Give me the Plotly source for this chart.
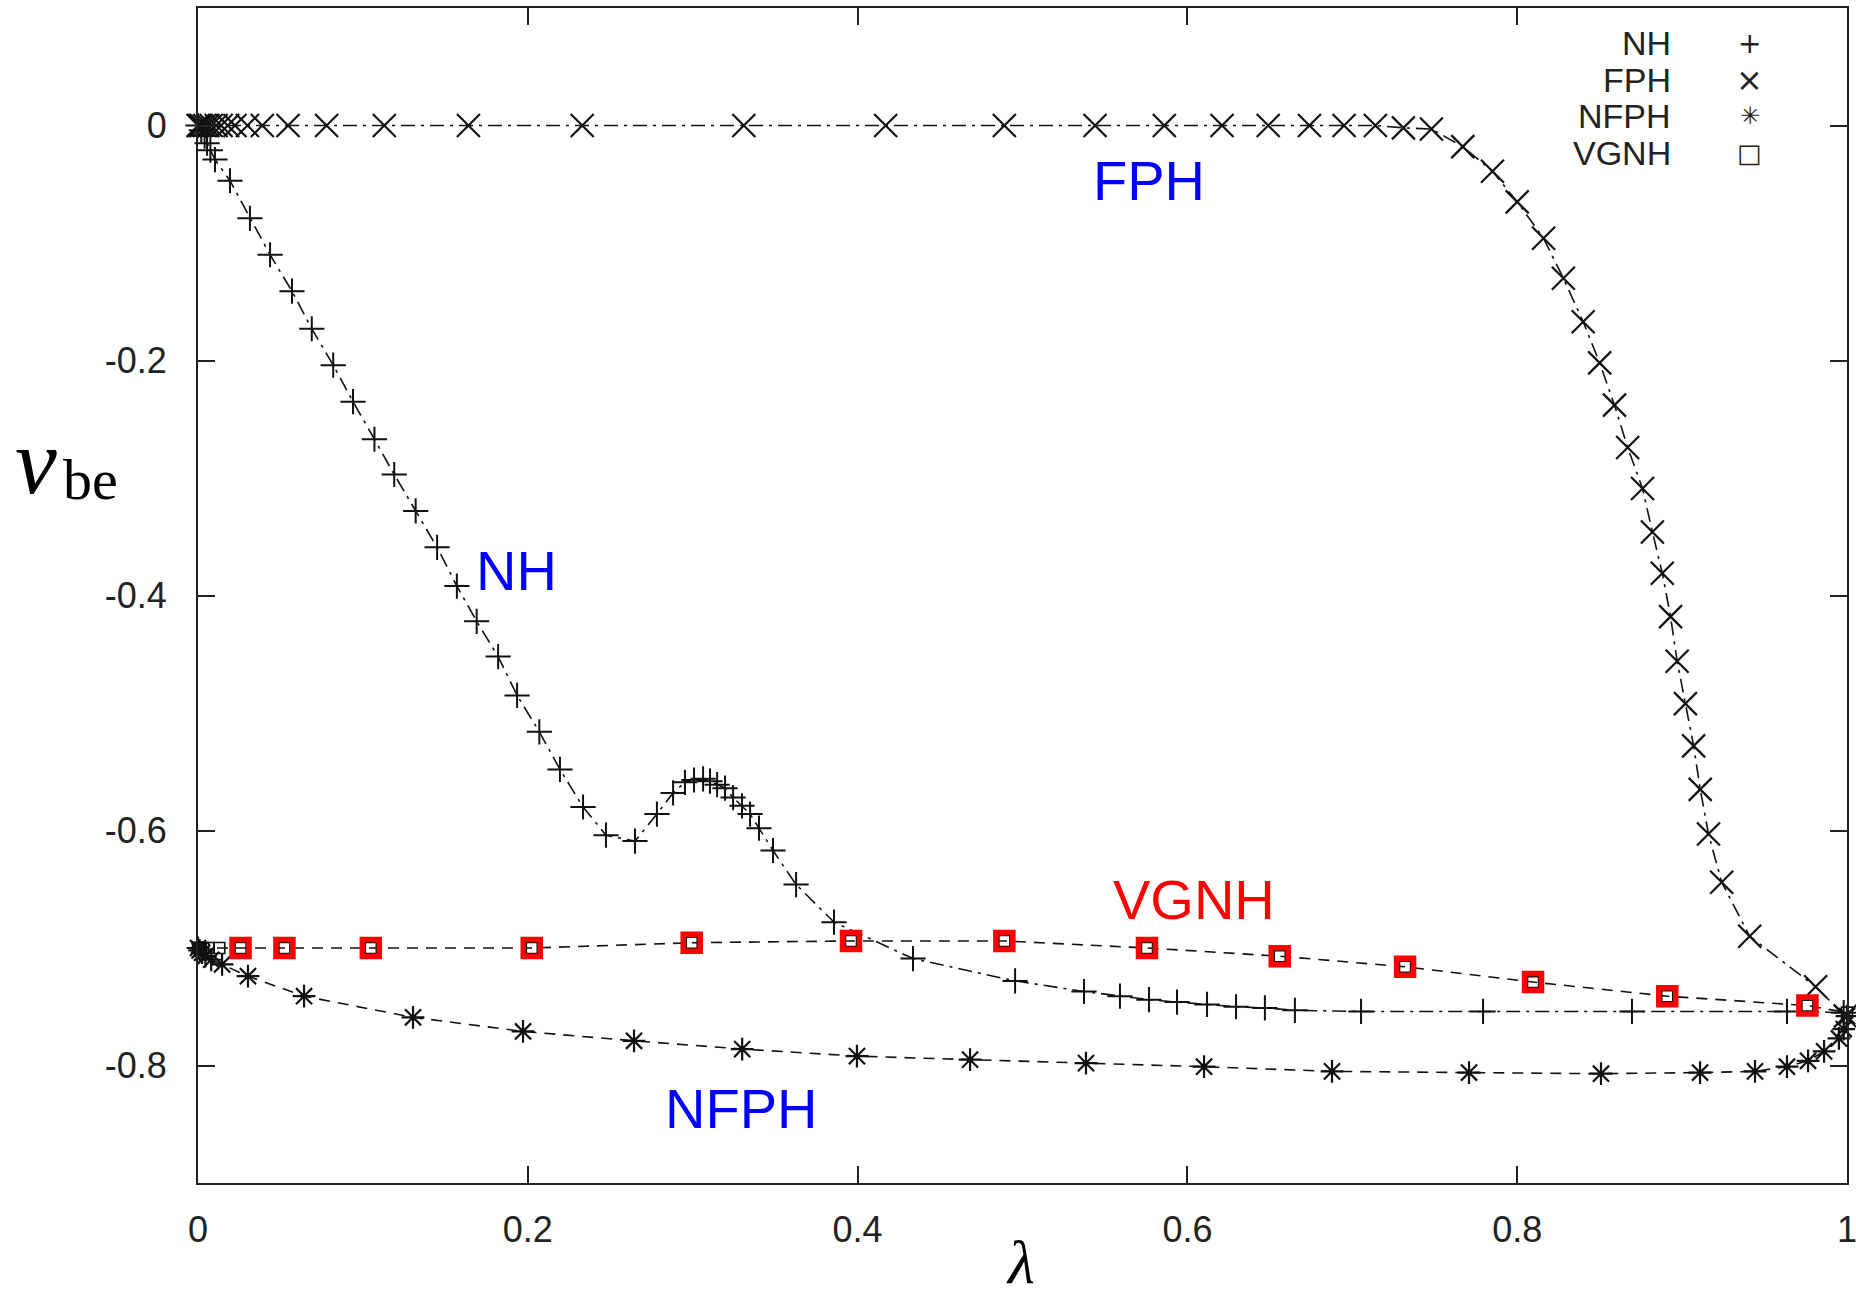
import plotly.graph_objects as go

# ---------------- data ----------------
NH_lam = [0, 0.002, 0.004, 0.0055, 0.0075, 0.0103, 0.0194, 0.0315, 0.0437, 0.057,
          0.069, 0.082, 0.094, 0.107, 0.119, 0.132, 0.145, 0.157, 0.169, 0.182,
          0.1935, 0.207, 0.2195, 0.2335, 0.2474, 0.2650, 0.2783, 0.2881, 0.2953, 0.3008,
          0.3063, 0.3105, 0.3148, 0.3196, 0.3245, 0.3299, 0.3348, 0.3402, 0.3487, 0.3627,
          0.3857, 0.4336, 0.4955, 0.5373, 0.5591, 0.5767, 0.5937, 0.6119, 0.6295, 0.6470,
          0.6652, 0.7053, 0.7793, 0.8696, 0.9636, 0.998]
NH_v = [0, -0.004, -0.009, -0.015, -0.021, -0.029, -0.047, -0.079, -0.110, -0.141,
        -0.173, -0.204, -0.235, -0.267, -0.297, -0.328, -0.359, -0.392, -0.422, -0.452,
        -0.485, -0.516, -0.548, -0.580, -0.604, -0.609, -0.586, -0.568, -0.559, -0.557,
        -0.556, -0.558, -0.561, -0.564, -0.572, -0.579, -0.586, -0.598, -0.617, -0.646,
        -0.678, -0.709, -0.728, -0.737, -0.741, -0.744, -0.746, -0.748, -0.750, -0.751,
        -0.753, -0.754, -0.754, -0.754, -0.754, -0.755]

FPH_lam = [0, 0.001, 0.002, 0.004, 0.006, 0.008, 0.011, 0.014, 0.018, 0.0224,
           0.030, 0.039, 0.0546, 0.078, 0.113, 0.164, 0.233, 0.331, 0.417, 0.489,
           0.544, 0.586, 0.621, 0.649, 0.674, 0.695, 0.714, 0.731, 0.748, 0.767,
           0.785, 0.800, 0.816, 0.828, 0.840, 0.850, 0.859, 0.867, 0.876, 0.882,
           0.888, 0.893, 0.897, 0.902, 0.907, 0.911, 0.916, 0.924, 0.941, 0.981, 0.999]
FPH_v = [0, 0, 0, 0, 0, 0, 0, 0, 0, 0,
         0, 0, 0, 0, 0, 0, 0, 0, 0, 0,
         0, 0, 0, 0, 0, 0, 0, -0.002, -0.003, -0.018,
         -0.039, -0.065, -0.096, -0.130, -0.167, -0.202, -0.238, -0.274, -0.309, -0.346,
         -0.381, -0.418, -0.456, -0.492, -0.528, -0.565, -0.603, -0.644, -0.690, -0.733, -0.758]

NFPH_lam = [0, 0.001, 0.0025, 0.0045, 0.008, 0.0146, 0.0303, 0.0643, 0.1304, 0.1971,
            0.2644, 0.330, 0.3996, 0.4682, 0.5385, 0.6101, 0.6877, 0.7708, 0.8508, 0.9109,
            0.9442, 0.9636, 0.9764, 0.9861, 0.9951, 0.998, 1.0]
NFPH_v = [-0.700, -0.702, -0.704, -0.707, -0.710, -0.714, -0.724, -0.741, -0.759, -0.771,
          -0.779, -0.786, -0.792, -0.795, -0.798, -0.801, -0.805, -0.806, -0.807, -0.806,
          -0.805, -0.801, -0.796, -0.788, -0.777, -0.769, -0.758]

VGNH_lam = [0, 0.0008, 0.0016, 0.0032, 0.0065, 0.0129, 0.0258, 0.0524, 0.1048, 0.2024,
            0.2994, 0.396, 0.489, 0.5755, 0.656, 0.732, 0.8096, 0.891, 0.976, 1.0]
VGNH_v = [-0.700, -0.700, -0.700, -0.700, -0.700, -0.700, -0.700, -0.700, -0.700, -0.700,
          -0.6955, -0.694, -0.694, -0.700, -0.707, -0.716, -0.729, -0.741, -0.749, -0.755]
VGNH_red_from, VGNH_red_to = 6, 19   # points highlighted with red squares

x_ticks = [0, 0.2, 0.4, 0.6, 0.8, 1]
x_tick_text = ["0", "0.2", "0.4", "0.6", "0.8", "1"]
y_ticks = [0, -0.2, -0.4, -0.6, -0.8]
y_tick_text = ["0", "-0.2", "-0.4", "-0.6", "-0.8"]

legend_names = ["NH", "FPH", "NFPH", "VGNH"]
legend_symbols = ["+", "\u00d7", "\u2733", "\u25a1"]
legend_symbol_sizes = [28, 32, 24, 26]

# curve labels (text, lambda, v, colour)
curve_labels = [("FPH", 0.577, -0.047, "#0000ff"),
                ("NH", 0.193, -0.379, "#0000ff"),
                ("VGNH", 0.604, -0.659, "#ff0000"),
                ("NFPH", 0.329, -0.837, "#0000ff")]

# ---------------- figure ----------------
DASHDOT = "14px,6px,3px,6px"
DASH = "11px,8px"
ink = "#111111"

fig = go.Figure()

fig.add_trace(go.Scatter(
    x=VGNH_lam, y=VGNH_v, mode="lines+markers", name="VGNH",
    line=dict(color=ink, width=1.6, dash=DASH),
    marker=dict(symbol="square-open", size=11, color=ink, line=dict(width=1.6, color=ink)),
    cliponaxis=False))
fig.add_trace(go.Scatter(
    x=NFPH_lam, y=NFPH_v, mode="lines+markers", name="NFPH",
    line=dict(color=ink, width=1.6, dash=DASH),
    marker=dict(symbol="asterisk-open", size=19, color=ink, line=dict(width=2.2, color=ink)),
    cliponaxis=False))
fig.add_trace(go.Scatter(
    x=NH_lam, y=NH_v, mode="lines+markers", name="NH",
    line=dict(color=ink, width=1.6, dash=DASHDOT),
    marker=dict(symbol="cross-thin-open", size=18, color=ink, line=dict(width=2, color=ink)),
    cliponaxis=False))
fig.add_trace(go.Scatter(
    x=FPH_lam, y=FPH_v, mode="lines+markers", name="FPH",
    line=dict(color=ink, width=1.6, dash=DASHDOT),
    marker=dict(symbol="x-thin-open", size=23, color=ink, line=dict(width=2.2, color=ink)),
    cliponaxis=False))
fig.add_trace(go.Scatter(
    x=VGNH_lam[VGNH_red_from:VGNH_red_to], y=VGNH_v[VGNH_red_from:VGNH_red_to],
    mode="markers", name="VGNH (highlight)",
    marker=dict(symbol="square-open", size=17, color="#ff0000", line=dict(width=5.5, color="#ff0000")),
    cliponaxis=False))

annotations = []
for txt, lx, ly, col in curve_labels:
    annotations.append(dict(x=lx, y=ly, xref="x", yref="y", text=txt, showarrow=False,
                            font=dict(family="Liberation Sans, Arial", size=56, color=col),
                            xanchor="center", yanchor="middle"))

legend_y = [0.970, 0.939, 0.908, 0.877]
for name, sym, ssz, ly in zip(legend_names, legend_symbols, legend_symbol_sizes, legend_y):
    annotations.append(dict(x=0.8945, y=ly, xref="paper", yref="paper", text=name,
                            showarrow=False, xanchor="right", yanchor="middle",
                            font=dict(family="Liberation Sans, Arial", size=34, color="#222")))
    annotations.append(dict(x=0.941, y=ly, xref="paper", yref="paper", text=sym,
                            showarrow=False, xanchor="center", yanchor="middle",
                            font=dict(family="DejaVu Sans", size=ssz, color="#222")))

# axis titles
annotations.append(dict(x=0.499, y=-0.0975, xref="paper", yref="paper", text="<i>\u03bb</i>",
                        showarrow=False, xanchor="center", yanchor="bottom",
                        font=dict(family="Liberation Serif, serif", size=62, color="#000")))
annotations.append(dict(x=-0.098, y=0.6145, xref="paper", yref="paper", text="<i>v</i>",
                        showarrow=False, xanchor="center", yanchor="middle",
                        font=dict(family="Liberation Serif, serif", size=94, color="#000")))
annotations.append(dict(x=-0.065, y=0.599, xref="paper", yref="paper", text="be",
                        showarrow=False, xanchor="center", yanchor="middle",
                        font=dict(family="Liberation Serif, serif", size=58, color="#000")))

axis_common = dict(showgrid=False, zeroline=False, showline=True, linewidth=2,
                   linecolor="#222", mirror="ticks", ticks="inside", ticklen=17,
                   tickwidth=1.5, tickcolor="#222", ticklabeloverflow="allow",
                   automargin=False,
                   tickfont=dict(family="Liberation Sans, Arial", size=36, color="#222"))

fig.update_layout(
    width=1856, height=1298,
    margin=dict(l=198, r=9, t=8, b=115),
    paper_bgcolor="white", plot_bgcolor="white",
    showlegend=False,
    annotations=annotations,
    xaxis=dict(range=[0, 1], tickvals=x_ticks, ticktext=x_tick_text,
               ticklabelstandoff=14, **axis_common),
    yaxis=dict(range=[-0.9, 0.1], tickvals=y_ticks, ticktext=y_tick_text,
               ticklabelstandoff=22, **axis_common),
)

fig.write_html("out.html")
